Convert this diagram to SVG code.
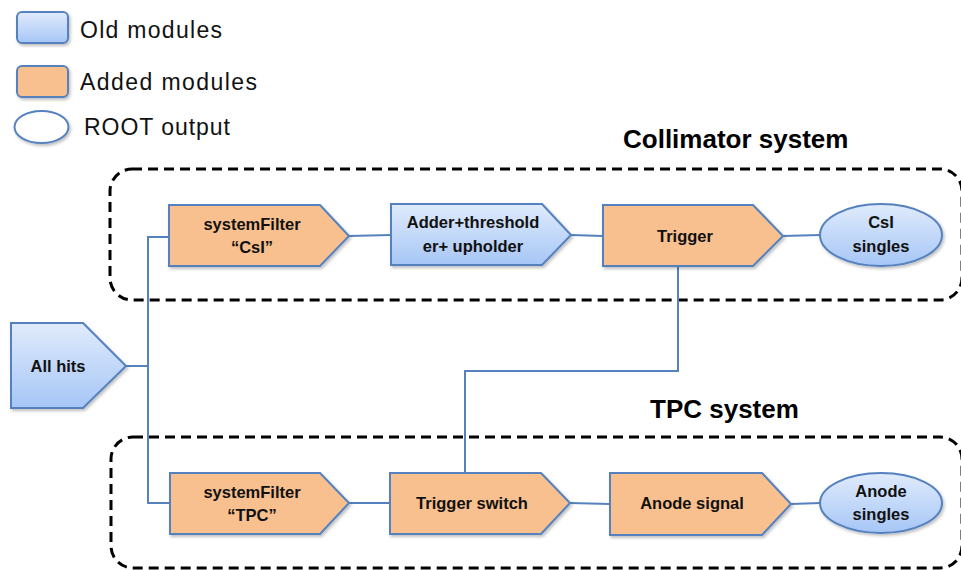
<svg xmlns="http://www.w3.org/2000/svg" width="961" height="570" viewBox="0 0 961 570">
<defs>
<linearGradient id="blueG" x1="0" y1="0" x2="0" y2="1">
<stop offset="0" stop-color="#E0EBFC"/>
<stop offset="1" stop-color="#A6C6F6"/>
</linearGradient>
<filter id="sh" x="-10%" y="-10%" width="130%" height="130%">
<feDropShadow dx="1.5" dy="2" stdDeviation="1.5" flood-color="#000" flood-opacity="0.25"/>
</filter>
<style>
.old{fill:url(#blueG);stroke:#5582BE;stroke-width:2;filter:url(#sh)}
.add{fill:#F9C08F;stroke:#5582BE;stroke-width:2;filter:url(#sh)}
.out{fill:url(#blueG);stroke:#5582BE;stroke-width:2;filter:url(#sh)}
.leg{font-family:"Liberation Sans",Arial,sans-serif;font-size:23px;fill:#111}
.lbl{font-family:"Liberation Sans",Arial,sans-serif;font-size:16.5px;font-weight:bold;fill:#111;text-anchor:middle}
.ttl{font-family:"Liberation Sans",Arial,sans-serif;font-size:26px;font-weight:bold;fill:#000}
.grp{fill:none;stroke:#000;stroke-width:3;stroke-dasharray:10 6}
.con{fill:none;stroke:#5582BE;stroke-width:2}
</style>
</defs>
<rect width="961" height="570" fill="#fff"/>

<g id="legend">
<rect class="old" x="17" y="12" width="51" height="31" rx="5"/>
<text class="leg" x="80" y="38" textLength="142">Old modules</text>
<rect class="add" x="17" y="66" width="51" height="31" rx="5"/>
<text class="leg" x="80" y="90" textLength="177">Added modules</text>
<ellipse cx="41.5" cy="127" rx="27" ry="16" fill="#fff" stroke="#5582BE" stroke-width="2" filter="url(#sh)"/>
<text class="leg" x="84" y="135" textLength="146">ROOT output</text>
</g>

<g id="collimator-system">
<rect class="grp" x="110" y="169" width="852" height="131" rx="22"/>
<text class="ttl" x="623" y="148">Collimator system</text>
</g>
<g id="tpc-system">
<rect class="grp" x="111" y="437" width="851" height="131" rx="22"/>
<text class="ttl" x="650" y="418">TPC system</text>
</g>

<g id="connectors">
<polyline class="con" points="126,366 148,366"/>
<polyline class="con" points="169,237 148,237 148,503 170,503"/>
<line class="con" x1="349" y1="236" x2="391" y2="235"/>
<line class="con" x1="571" y1="235" x2="603" y2="236"/>
<line class="con" x1="783" y1="236" x2="820" y2="235"/>
<polyline class="con" points="678,266 678,371 465,371 465,473"/>
<line class="con" x1="349" y1="503" x2="390" y2="503"/>
<line class="con" x1="570" y1="503" x2="610" y2="504"/>
<line class="con" x1="791" y1="504" x2="821" y2="503"/>
</g>

<g id="all-hits">
<polygon class="old" points="11,323 83,323 126,366 83,408 11,408"/>
<text class="lbl" x="58" y="372">All hits</text>
</g>

<g id="systemfilter-csi">
<polygon class="add" points="169,205 320,205 349,236 320,266 169,266"/>
<text class="lbl" x="252" y="230">systemFilter</text>
<text class="lbl" x="252" y="253">“CsI”</text>
</g>

<g id="adder">
<polygon class="old" points="391,204 542,204 571,235 542,265 391,265"/>
<text class="lbl" x="473" y="228">Adder+threshold</text>
<text class="lbl" x="473" y="252">er+ upholder</text>
</g>

<g id="trigger">
<polygon class="add" points="603,205 753,205 783,236 753,266 603,266"/>
<text class="lbl" x="685" y="242">Trigger</text>
</g>

<g id="csi-singles">
<ellipse class="out" cx="881" cy="235" rx="61" ry="31"/>
<text class="lbl" x="881" y="228">CsI</text>
<text class="lbl" x="881" y="252">singles</text>
</g>

<g id="systemfilter-tpc">
<polygon class="add" points="170,473 320,473 349,503 320,534 170,534"/>
<text class="lbl" x="252" y="498">systemFilter</text>
<text class="lbl" x="252" y="521">“TPC”</text>
</g>

<g id="trigger-switch">
<polygon class="add" points="390,473 541,473 570,503 541,534 390,534"/>
<text class="lbl" x="472" y="509">Trigger switch</text>
</g>

<g id="anode-signal">
<polygon class="add" points="610,473 762,473 791,504 762,535 610,535"/>
<text class="lbl" x="692" y="509">Anode signal</text>
</g>

<g id="anode-singles">
<ellipse class="out" cx="881" cy="503" rx="61" ry="30"/>
<text class="lbl" x="881" y="497">Anode</text>
<text class="lbl" x="881" y="520">singles</text>
</g>
</svg>
